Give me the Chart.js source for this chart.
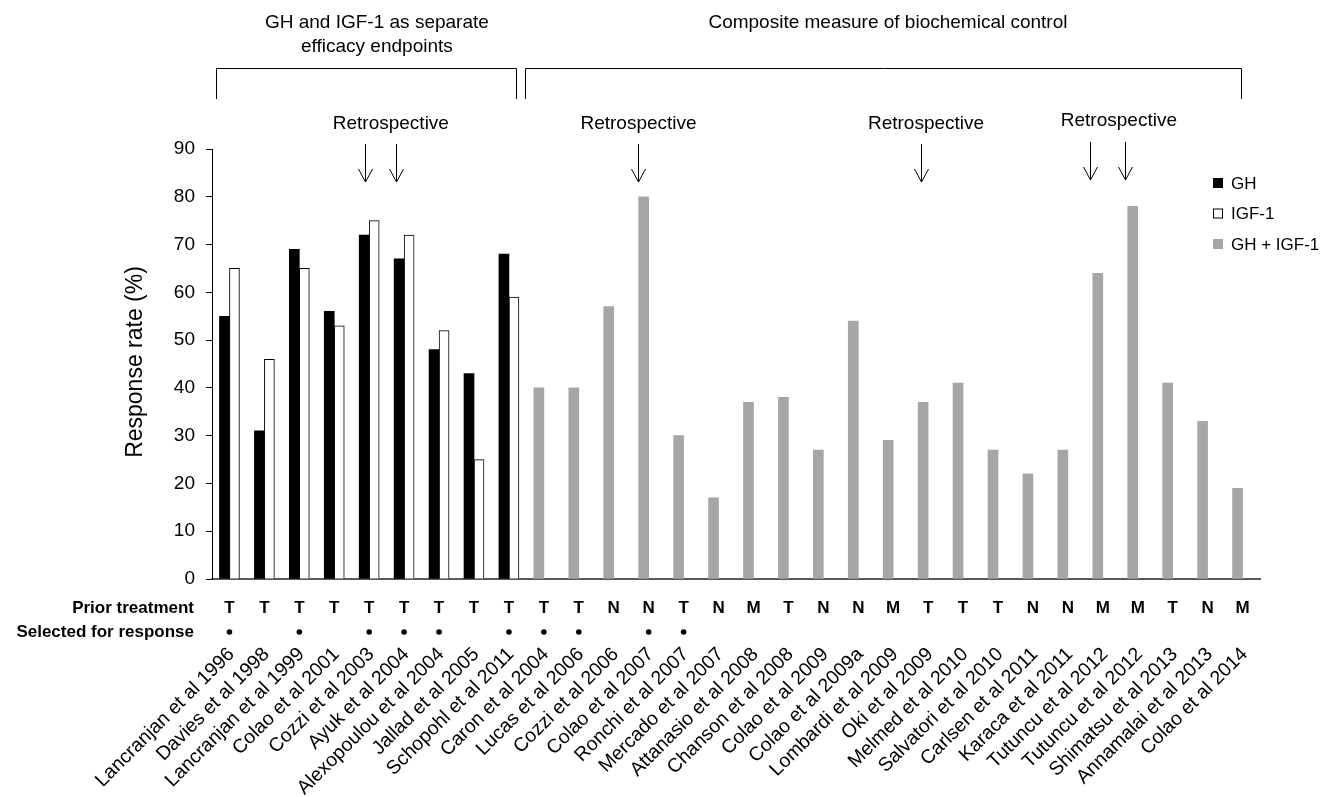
<!DOCTYPE html>
<html>
<head>
<meta charset="utf-8">
<script src="https://cdn.jsdelivr.net/npm/chart.js@4.4.1/dist/chart.umd.min.js"></script>
<style>
  body { margin: 0; background: #fff; }
  #wrap { width: 1326px; height: 797px; position: relative; }
</style>
</head>
<body>
<div id="wrap"><canvas id="myChart"></canvas></div>
<script>
// data
const studies = [
  'Lancranjan et al 1996', 'Davies et al 1998', 'Lancranjan et al 1999', 'Colao et al 2001',
  'Cozzi et al 2003', 'Ayuk et al 2004', 'Alexopoulou et al 2004', 'Jallad et al 2005',
  'Schopohl et al 2011', 'Caron et al 2004', 'Lucas et al 2006', 'Cozzi et al 2006',
  'Colao et al 2007', 'Ronchi et al 2007', 'Mercado et al 2007', 'Attanasio et al 2008',
  'Chanson et al 2008', 'Colao et al 2009', 'Colao et al 2009a', 'Lombardi et al 2009',
  'Oki et al 2009', 'Melmed et al 2010', 'Salvatori et al 2010', 'Carlsen et al 2011',
  'Karaca et al 2011', 'Tutuncu et al 2012', 'Tutuncu et al 2012', 'Shimatsu et al 2013',
  'Annamalai et al 2013', 'Colao et al 2014'
];
const ghRate = [55, 31, 69, 56, 72, 67, 48, 43, 68,
  null, null, null, null, null, null, null, null, null, null, null,
  null, null, null, null, null, null, null, null, null, null];
const igfRate = [65, 46, 65, 53, 75, 72, 52, 25, 59,
  null, null, null, null, null, null, null, null, null, null, null,
  null, null, null, null, null, null, null, null, null, null];
const combinedRate = [null, null, null, null, null, null, null, null, null,
  40, 40, 57, 80, 30, 17, 37, 38, 27, 54, 29,
  37, 41, 27, 22, 27, 64, 78, 41, 33, 19];
const priorTreatment = ['T','T','T','T','T','T','T','T','T','T','T','N','N','T','N',
  'M','T','N','N','M','T','T','T','N','N','M','M','T','N','M'];
const selectedForResponse = [1,0,1,0,1,1,1,0,1,1,1,0,1,1,0,0,0,0,0,0,0,0,0,0,0,0,0,0,0,0];
const seriesNames = ['GH', 'IGF-1', 'GH + IGF-1'];

// annotation placement, in category units
const groupBrackets = [[-0.39, 8.2], [8.46, 28.96]];
const groupTitles = [
  { at: 4.22, lines: ['GH and IGF-1 as separate', 'efficacy endpoints'] },
  { at: 18.85, lines: ['Composite measure of biochemical control'] }
];
const retroLabels = [4.62, 11.71, 19.94, 25.46];
const retroArrows = [3.89, 4.78, 11.70, 19.81, 24.63, 25.63];

const FONT = '"Liberation Sans", Arial, sans-serif';
const GREY = '#a6a6a6';
Chart.defaults.font.family = FONT;
Chart.defaults.color = '#000';

function drawArrow(ctx, x, y1, y2) {
    ctx.beginPath();
    ctx.moveTo(x, y1);
    ctx.lineTo(x, y2);
    ctx.moveTo(x - 7, y2 - 13);
    ctx.lineTo(x, y2);
    ctx.lineTo(x + 7, y2 - 13);
    ctx.stroke();
}

const annotations = {
    id: 'annotations',
    afterDraw(chart) {
        const ctx = chart.ctx;
        const x = chart.scales.x;
        ctx.save();
        ctx.strokeStyle = '#000';
        ctx.fillStyle = '#000';
        ctx.lineWidth = 1;
        ctx.textAlign = 'center';
        ctx.textBaseline = 'middle';

        // group titles and brackets
        ctx.font = '19px ' + FONT;
        groupTitles.forEach(t => {
            t.lines.forEach((line, i) => ctx.fillText(line, x.getPixelForValue(t.at), 23 + i * 24));
        });
        groupBrackets.forEach(b => {
            const a = Math.round(x.getPixelForValue(b[0])) + 0.5;
            const c = Math.round(x.getPixelForValue(b[1])) + 0.5;
            ctx.beginPath();
            ctx.moveTo(a, 99);
            ctx.lineTo(a, 68.5);
            ctx.lineTo(c, 68.5);
            ctx.lineTo(c, 99);
            ctx.stroke();
        });

        // retrospective markers (last group sits a little higher)
        retroLabels.forEach((v, i) => ctx.fillText('Retrospective', x.getPixelForValue(v), i === 3 ? 121 : 124));
        retroArrows.forEach((v, i) => {
            const lift = i >= 4 ? 2 : 0;
            drawArrow(ctx, Math.round(x.getPixelForValue(v)) + 0.5, 144 - lift, 182 - lift);
        });

        // prior treatment / selected rows
        ctx.font = 'bold 17px ' + FONT;
        ctx.textAlign = 'right';
        ctx.fillText('Prior treatment', 194, 608);
        ctx.fillText('Selected for response', 194, 632);
        ctx.textAlign = 'center';
        priorTreatment.forEach((p, i) => ctx.fillText(p, x.getPixelForValue(i), 608));
        selectedForResponse.forEach((s, i) => {
            if (!s) return;
            ctx.beginPath();
            ctx.arc(x.getPixelForValue(i), 632, 2.8, 0, Math.PI * 2);
            ctx.fill();
        });

        // y axis title
        ctx.save();
        ctx.translate(136, 362);
        ctx.rotate(-Math.PI / 2);
        ctx.font = '23px ' + FONT;
        ctx.fillText('Response rate (%)', 0, 0);
        ctx.restore();

        // legend
        const fills = ['#000', '#fff', GREY];
        ctx.font = '17px ' + FONT;
        ctx.textAlign = 'left';
        seriesNames.forEach((name, i) => {
            const ly = 183 + i * 30.5;
            ctx.fillStyle = fills[i];
            ctx.fillRect(1213, ly - 5, 10, 10);
            if (i === 1) ctx.strokeRect(1213.5, ly - 4.5, 9, 9);
            ctx.fillStyle = '#000';
            ctx.fillText(name, 1231, ly + 1);
        });
        ctx.restore();
    }
};

new Chart(document.getElementById('myChart'), {
    type: 'bar',
    data: {
        labels: studies,
        datasets: [
            { label: seriesNames[0], data: ghRate, backgroundColor: '#000', borderWidth: 0, stack: 'a', barThickness: 10 },
            { label: seriesNames[1], data: igfRate, backgroundColor: '#fff', borderColor: '#000', borderWidth: 1, stack: 'b', barThickness: 10 },
            { label: seriesNames[2], data: combinedRate, backgroundColor: GREY, borderWidth: 0, stack: 'a', barThickness: 10 }
        ]
    },
    options: {
        responsive: true,
        maintainAspectRatio: false,
        animation: false,
        devicePixelRatio: 1,
        layout: { padding: { top: 149, right: 66, bottom: 0, left: 0 } },
        plugins: {
            legend: { display: false },
            tooltip: { enabled: false }
        },
        scales: {
            x: {
                grid: { display: false, drawTicks: false },
                border: { display: true, color: '#595959', width: 2 },
                ticks: { autoSkip: false, minRotation: 45, maxRotation: 45, padding: 64, labelOffset: 2, font: { size: 19.5 } },
                afterFit(scale) { scale.height = 218; }
            },
            y: {
                min: 0,
                max: 90,
                stacked: false,
                ticks: { stepSize: 10, padding: 11, font: { size: 19 } },
                grid: { drawOnChartArea: false, drawTicks: true, tickLength: 6, color: '#000' },
                border: { display: true, color: '#000', width: 1 },
                afterFit(scale) { scale.width = 212; }
            }
        }
    },
    plugins: [annotations]
});
</script>
</body>
</html>
